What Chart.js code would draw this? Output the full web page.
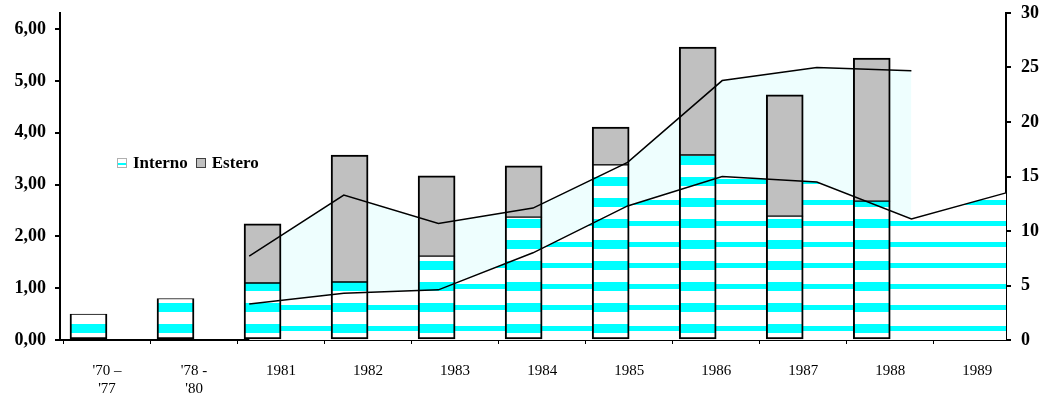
<!DOCTYPE html>
<html>
<head>
<meta charset="utf-8">
<title>Interno / Estero</title>
<script src="https://cdn.jsdelivr.net/npm/chart.js@4.4.1/dist/chart.umd.min.js"></script>
<style>
    body { margin: 0; background: #fff; }
    #wrap { position: relative; width: 1039px; height: 394px; }
    #legend {
        position: absolute; left: 117px; top: 153px;
        display: flex; align-items: center;
        font: bold 17px 'Liberation Serif', serif; color: #000;
    }
    #legend .item { display: flex; align-items: center; margin-right: 8px; }
    #legend .box { width: 10px; height: 10px; margin-right: 6px; box-sizing: border-box; }
</style>
</head>
<body>
<div id="wrap">
    <canvas id="chart" width="1039" height="394"></canvas>
    <div id="legend"></div>
</div>
<script>
// categories on the bottom axis
const categories = [["'70 –", "'77"], ["'78 -", "'80"], '1981', '1982', '1983', '1984', '1985', '1986', '1987', '1988', '1989'];

// stacked bars, left axis
const interno = [0.50, 0.80, 1.10, 1.12, 1.62, 2.37, 3.38, 3.57, 2.39, 2.68, null];
const estero  = [null, null, 1.14, 2.45, 1.55, 0.99, 0.73, 2.08, 2.34, 2.76, null];

// area lines, right axis
const areaLow  = [null, null, 3.3, 4.3, 4.6, 8.0, 12.3, 15.0, 14.5, 11.1, 13.5];
const areaHigh = [null, null, 7.7, 13.3, 10.7, 12.1, 16.3, 23.8, 25.0, 24.7, null];

const seriesNames = ['Interno', 'Estero'];
const leftTicks = [0, 1, 2, 3, 4, 5, 6];
const rightTicks = [0, 5, 10, 15, 20, 25, 30];

function stripes(from, to) {
    const c = document.createElement('canvas');
    c.width = 4;
    c.height = 21;
    const g = c.getContext('2d');
    g.fillStyle = '#ffffff';
    g.fillRect(0, 0, 4, 21);
    g.fillStyle = '#00ffff';
    g.fillRect(0, from, 4, to - from);
    return g.createPattern(c, 'repeat');
}

function buildLegend() {
    const fills = [
        'linear-gradient(#fff 0 45%, #00ffff 45% 75%, #fff 75%)',
        '#c0c0c0'
    ];
    const borders = ['1px solid #b0b0b0', '1px solid #404040'];
    const legend = document.getElementById('legend');
    seriesNames.forEach((name, i) => {
        const item = document.createElement('div');
        item.className = 'item';
        item.innerHTML = `<div class="box" style="background:${fills[i]};border:${borders[i]}"></div><span>${name}</span>`;
        legend.appendChild(item);
    });
}

// y axes: no extra room for the half label at the top
function noOverhang(s) {
    s.paddingTop = 0;
    s.paddingBottom = 0;
}

function initChart() {
    const barStripes = stripes(9, 18);
    const areaStripes = stripes(11, 16);
    const ctx = document.getElementById('chart').getContext('2d');

    Chart.defaults.font.family = "'Liberation Serif', serif";
    Chart.defaults.color = '#000';

    return new Chart(ctx, {
        data: {
            labels: categories,
            datasets: [{
                type: 'bar',
                label: seriesNames[0],
                data: interno.map((v, i) => ({ x: i, y: v })),
                backgroundColor: barStripes,
                borderColor: '#000',
                borderWidth: { top: 1, left: 2, right: 2, bottom: 2 },
                borderSkipped: false,
                barThickness: 37,
                xAxisID: 'x',
                yAxisID: 'y',
                order: 2
            }, {
                type: 'bar',
                label: seriesNames[1],
                data: estero.map((v, i) => ({ x: i, y: v })),
                backgroundColor: '#c0c0c0',
                borderColor: '#000',
                borderWidth: { top: 2, left: 2, right: 2, bottom: 1 },
                borderSkipped: false,
                barThickness: 37,
                xAxisID: 'x',
                yAxisID: 'y',
                order: 2
            }, {
                type: 'line',
                label: 'low',
                data: areaLow,
                borderColor: '#000',
                borderWidth: 1.5,
                backgroundColor: areaStripes,
                pointRadius: 0,
                fill: 'origin',
                xAxisID: 'x2',
                yAxisID: 'y2',
                order: 1
            }, {
                type: 'line',
                label: 'high',
                data: areaHigh,
                borderColor: '#000',
                borderWidth: 1.5,
                backgroundColor: '#eefefe',
                pointRadius: 0,
                fill: 2,
                xAxisID: 'x2',
                yAxisID: 'y2',
                order: 1
            }]
        },
        options: {
            responsive: false,
            animation: false,
            layout: { padding: { top: 13 } },
            plugins: {
                legend: { display: false },
                tooltip: { enabled: false },
                filler: { drawTime: 'beforeDatasetsDraw' }
            },
            scales: {
                x: {
                    type: 'linear',
                    stacked: true,
                    offset: false,
                    min: -0.54,
                    max: 10.33,
                    afterBuildTicks: s => { s.ticks = categories.map((c, i) => ({ value: i })); },
                    afterFit: s => { s.height = 54; },
                    ticks: {
                        autoSkip: false,
                        maxRotation: 0,
                        padding: 18,
                        font: { size: 15 },
                        callback: v => categories[v]
                    },
                    grid: { drawOnChartArea: false, offset: true, tickLength: 4, color: '#000' },
                    border: { color: '#000', width: 2 }
                },
                x2: {
                    type: 'category',
                    offset: false,
                    display: false
                },
                y: {
                    position: 'left',
                    stacked: true,
                    min: 0,
                    max: 6.31,
                    afterBuildTicks: s => { s.ticks = leftTicks.map(v => ({ value: v })); },
                    afterFit: s => { s.width = 60; noOverhang(s); },
                    ticks: {
                        padding: 9,
                        font: { size: 18, weight: 'bold' },
                        callback: v => v.toFixed(2).replace('.', ',')
                    },
                    grid: { drawOnChartArea: false, tickLength: 5, color: '#000', lineWidth: 2 },
                    border: { color: '#000', width: 2 }
                },
                y2: {
                    position: 'right',
                    min: 0,
                    max: 30,
                    afterBuildTicks: s => { s.ticks = rightTicks.map(v => ({ value: v })); },
                    afterFit: s => { s.width = 33; noOverhang(s); },
                    ticks: {
                        padding: 10,
                        font: { size: 18, weight: 'bold' }
                    },
                    grid: { drawOnChartArea: false, tickLength: 5, color: '#000', lineWidth: 2 },
                    border: { color: '#000', width: 2 }
                }
            }
        }
    });
}

document.addEventListener('DOMContentLoaded', function() {
    buildLegend();
    initChart();
});
</script>
</body>
</html>
